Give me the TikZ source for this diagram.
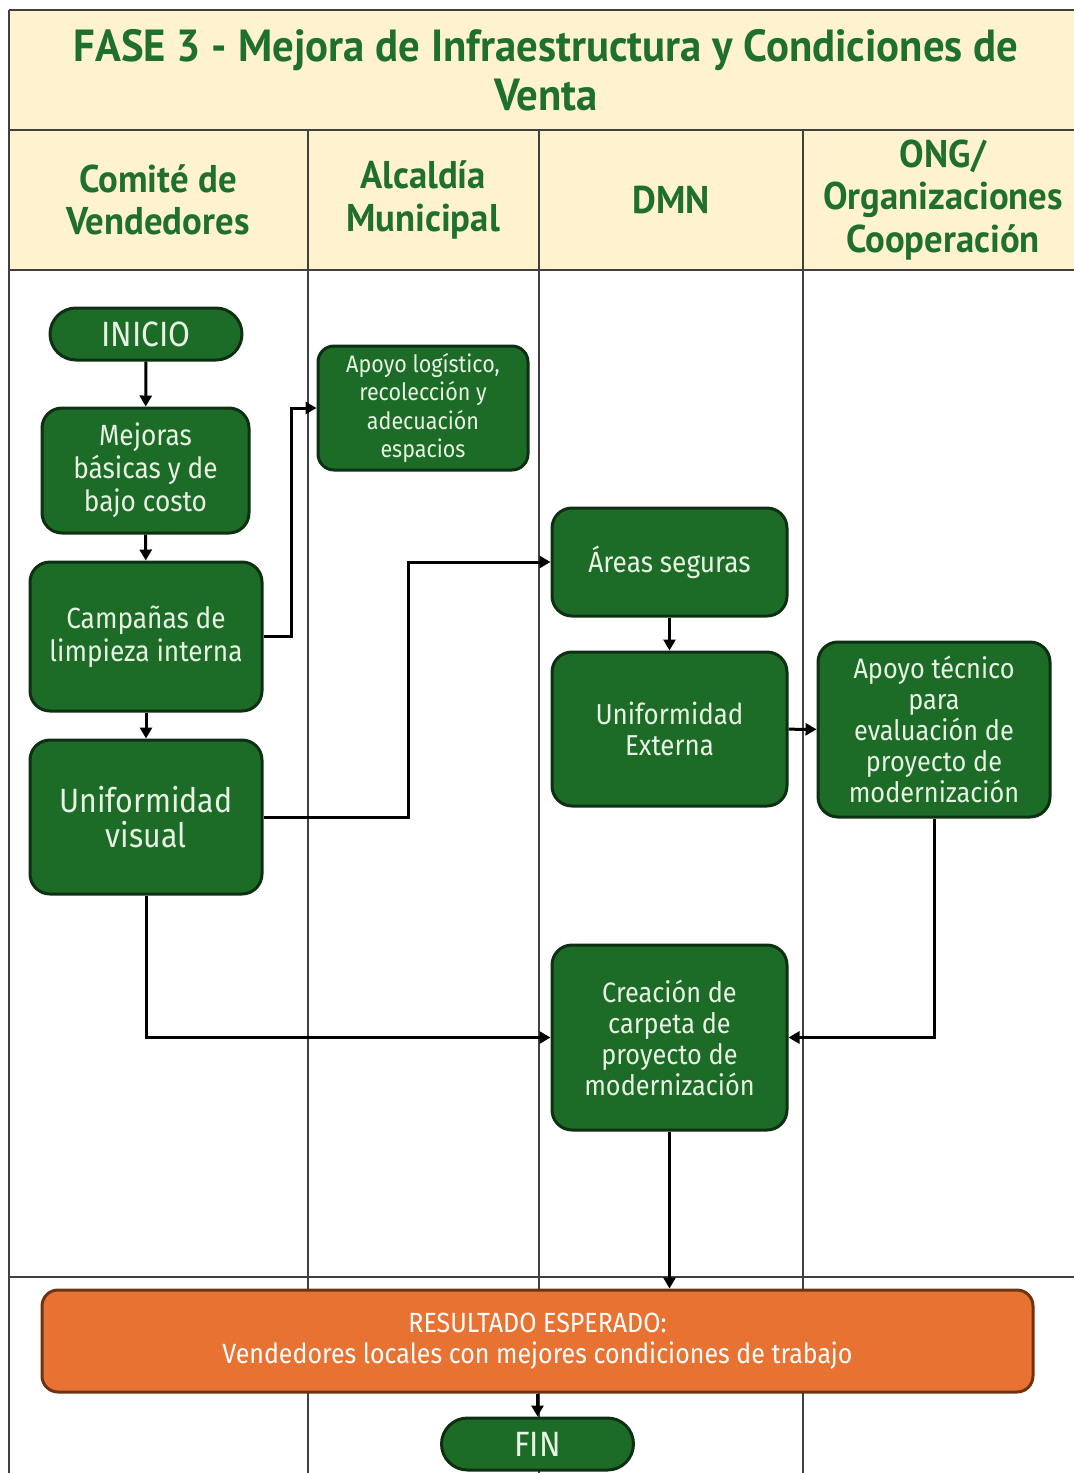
\documentclass[tikz,border=0pt]{standalone}
\usepackage{fontspec}
\setmainfont[FakeStretch=0.9]{Fira Sans}
\newfontfamily\headfont[FakeStretch=0.95]{PT Sans}
\usetikzlibrary{arrows.meta}

\definecolor{boxgreen}{RGB}{28,107,39}
\definecolor{boxedge}{RGB}{14,48,18}
\definecolor{headgreen}{RGB}{31,112,42}
\definecolor{cream}{RGB}{255,242,206}
\definecolor{resorange}{RGB}{232,114,50}
\definecolor{resedge}{RGB}{110,52,18}
\definecolor{paletext}{RGB}{232,242,228}

\tikzset{
  taskbox/.style={draw=boxedge, fill=boxgreen, line width=0.3mm, rounded corners=2mm,
    text=paletext, align=center, inner sep=1pt, font=\fontsize{8.3}{9.4}\selectfont},
  endbox/.style={taskbox, rounded corners=2.6mm, minimum width=19.2mm, minimum height=5.2mm,
    font=\fontsize{10}{11}\selectfont},
  flow/.style={line width=0.3mm, -{Triangle[length=1.1mm,width=1.2mm]}},
  lane/.style={line width=0.2mm, draw=black!75}
}

\begin{document}
\begin{tikzpicture}[x=0.1mm, y=-0.1mm]
    \useasboundingbox (0,0) rectangle (1074,1473);

    % Header bands
    \fill[cream] (9,10) rectangle (1074,270);
    \draw[lane] (9,10) -- (1074,10); \draw[lane] (9,130) -- (1074,130);
    \draw[lane] (9,270) -- (1074,270); \draw[lane] (9,1277) -- (1074,1277);
    \draw[lane] (9,10) -- (9,1473);
    \foreach \x in {308,539,803} \draw[lane] (\x,130) -- (\x,1473);

    \node[text=headgreen, align=center, font=\headfont\bfseries\fontsize{12.8}{13.8}\selectfont]
      (title) at (546,70) {FASE 3 - Mejora de Infraestructura y Condiciones de\\Venta};
    \begin{scope}[every node/.style={text=headgreen, align=center,
        font=\headfont\bfseries\fontsize{11}{12}\selectfont}]
      \node (vendedores) at (158,200) {Comité de\\Vendedores};
      \node (alcaldia) at (423,200) {Alcaldía\\Municipal};
      \node (dmn) at (671,200) {DMN};
      \node (ong) at (943,200) {ONG/\\Organizaciones\\Cooperación};
    \end{scope}

    % Boxes
    \node[endbox] (inicio) at (146,334) {INICIO};
    \node[taskbox, minimum width=20.7mm, minimum height=12.5mm] (mejoras) at (145.5,470.5)
      {Mejoras\\básicas y de\\bajo costo};
    \node[taskbox, minimum width=23.2mm, minimum height=14.9mm] (campanas) at (146,636.5)
      {Campañas de\\limpieza interna};
    \node[taskbox, minimum width=23.2mm, minimum height=15.4mm,
      font=\fontsize{9.6}{10.2}\selectfont] (uvisual) at (146,817) {Uniformidad\\visual};
    \node[taskbox, rounded corners=1.6mm, minimum width=21mm, minimum height=12.4mm,
      font=\fontsize{6.8}{8}\selectfont] (logistico) at (423,408)
      {Apoyo logístico,\\recolección y\\adecuación\\espacios};
    \node[taskbox, minimum width=23.5mm, minimum height=10.8mm] (areas) at (669.5,562)
      {Áreas seguras};
    \node[taskbox, minimum width=23.5mm, minimum height=15.4mm,
      font=\fontsize{8.2}{8.8}\selectfont] (uexterna) at (669.5,729) {Uniformidad\\Externa};
    \node[taskbox, minimum width=23.2mm, minimum height=17.5mm,
      font=\fontsize{8}{8.8}\selectfont] (tecnico) at (934,729.5)
      {Apoyo técnico\\para\\evaluación de\\proyecto de\\modernización};
    \node[taskbox, minimum width=23.5mm, minimum height=18.5mm,
      font=\fontsize{8}{8.8}\selectfont] (creacion) at (669.5,1037.5)
      {Creación de\\carpeta de\\proyecto de\\modernización};
    \node[taskbox, draw=resedge, fill=resorange, rounded corners=1.6mm,
      minimum width=99.1mm, minimum height=10.2mm, text=white,
      font=\fontsize{7.9}{8.8}\selectfont] (resultado) at (537.5,1341)
      {RESULTADO ESPERADO:\\Vendedores locales con mejores condiciones de trabajo};
    \node[endbox] (fin) at (537.5,1444) {FIN};

    % Arcs
    \draw[flow] (inicio) -- (mejoras);
    \draw[flow] (mejoras) -- (campanas);
    \draw[flow] (campanas) -- (uvisual);
    \draw[flow] (campanas.east) -- ++(28,0) |- (logistico.west);
    \draw[flow] (uvisual.east) -- ++(145,0) |- (areas.west);
    \draw[flow] (areas) -- (uexterna);
    \draw[flow] (uexterna) -- (tecnico);
    \draw[flow] (tecnico.south) |- (creacion.east);
    \draw[flow] (uvisual.south) |- (creacion.west);
    \draw[flow] (creacion.south) -- (creacion.south |- resultado.north);
    \draw[flow] (resultado) -- (fin);
  \end{tikzpicture}
\end{document}
